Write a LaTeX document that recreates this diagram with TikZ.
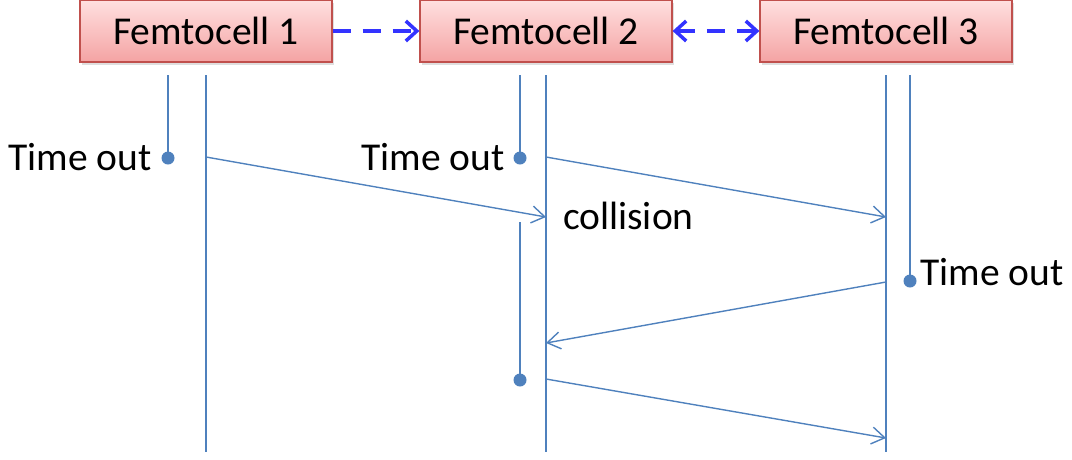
\documentclass[tikz,border=0pt]{standalone}
\usepackage{fontspec}
\setmainfont{Carlito}
\usetikzlibrary{arrows.meta,shadows}
\definecolor{lifeblue}{HTML}{4F81BD}
\definecolor{linkblue}{HTML}{3333FF}
\definecolor{boxedge}{HTML}{C0504D}
\definecolor{boxtop}{HTML}{FFE0E0}
\definecolor{boxbot}{HTML}{F4A3A3}
\tikzset{
  cellbox/.style={draw=boxedge, line width=1.2pt, top color=boxtop, bottom color=boxbot,
    minimum width=252pt, minimum height=62pt, inner sep=0pt,
    drop shadow={shadow xshift=2pt, shadow yshift=-3pt, opacity=0.25},
    font=\fontsize{39.5}{46}\selectfont},
  link/.style={draw=linkblue, line width=4pt, dash pattern=on 18pt off 12pt,
    arrows={-Straight Barb[length=11pt,width=20pt,line width=3.5pt]}},
  lifeline/.style={draw=lifeblue, line width=1.6pt},
  msg/.style={draw=lifeblue, line width=1.4pt, -{Straight Barb[length=13pt,width=17pt,line width=1.4pt]}},
  tdot/.style={circle, fill=lifeblue, minimum size=13pt, inner sep=0pt},
  lbl/.style={font=\fontsize{39.5}{46}\selectfont, inner sep=0pt}
}
\begin{document}
\begin{tikzpicture}[x=1pt,y=-1pt]
\useasboundingbox (0,0) rectangle (1072,459);
% base stations
\node[cellbox] (f1) at (206,31) {Femtocell 1};
\node[cellbox] (f2) at (546,31) {Femtocell 2};
\node[cellbox] (f3) at (886,31) {Femtocell 3};
% links between cells
\draw[link] (f1.east) -- (f2.west);
\draw[link,{Straight Barb[length=11pt,width=20pt,line width=3.5pt]}-{Straight Barb[length=11pt,width=20pt,line width=3.5pt]}] (f2.east) -- (f3.west);
% lifeline ends
\coordinate (l1t) at (206,75); \coordinate (l1b) at (206,452);
\coordinate (l2t) at (546,75); \coordinate (l2b) at (546,452);
\coordinate (l3t) at (886,75); \coordinate (l3b) at (886,452);
\coordinate (s1t) at (168,75);
\coordinate (s2t) at (520,75);
\coordinate (s2m) at (520,222);
\coordinate (s3t) at (910,75);
% time-out markers
\node[tdot] (d1) at (168,158) {};
\node[tdot] (d2) at (520,158) {};
\node[tdot] (d3) at (910,281) {};
\node[tdot] (d4) at (520,380) {};
% lifelines
\draw[lifeline] (l1t) -- (l1b);
\draw[lifeline] (l2t) -- (l2b);
\draw[lifeline] (l3t) -- (l3b);
\draw[lifeline] (s1t) -- (d1.center);
\draw[lifeline] (s2t) -- (d2.center);
\draw[lifeline] (s2m) -- (d4.center);
\draw[lifeline] (s3t) -- (d3.center);
% labels
\node[lbl, anchor=east] (t1) at (152,157) {Time out};
\node[lbl, anchor=east] (t2) at (505,157) {Time out};
\node[lbl, anchor=west] (t3) at (920,272) {Time out};
\node[lbl, anchor=west] (col) at (563,216) {collision};
% messages
\coordinate (m1a) at (206,157); \coordinate (m1b) at (546,217);
\coordinate (m2a) at (546,157); \coordinate (m2b) at (886,217);
\coordinate (m3a) at (886,282); \coordinate (m3b) at (546,343);
\coordinate (m4a) at (546,379); \coordinate (m4b) at (886,438);
\draw[msg] (m1a) -- (m1b);
\draw[msg] (m2a) -- (m2b);
\draw[msg] (m3a) -- (m3b);
\draw[msg] (m4a) -- (m4b);
\end{tikzpicture}
\end{document}
